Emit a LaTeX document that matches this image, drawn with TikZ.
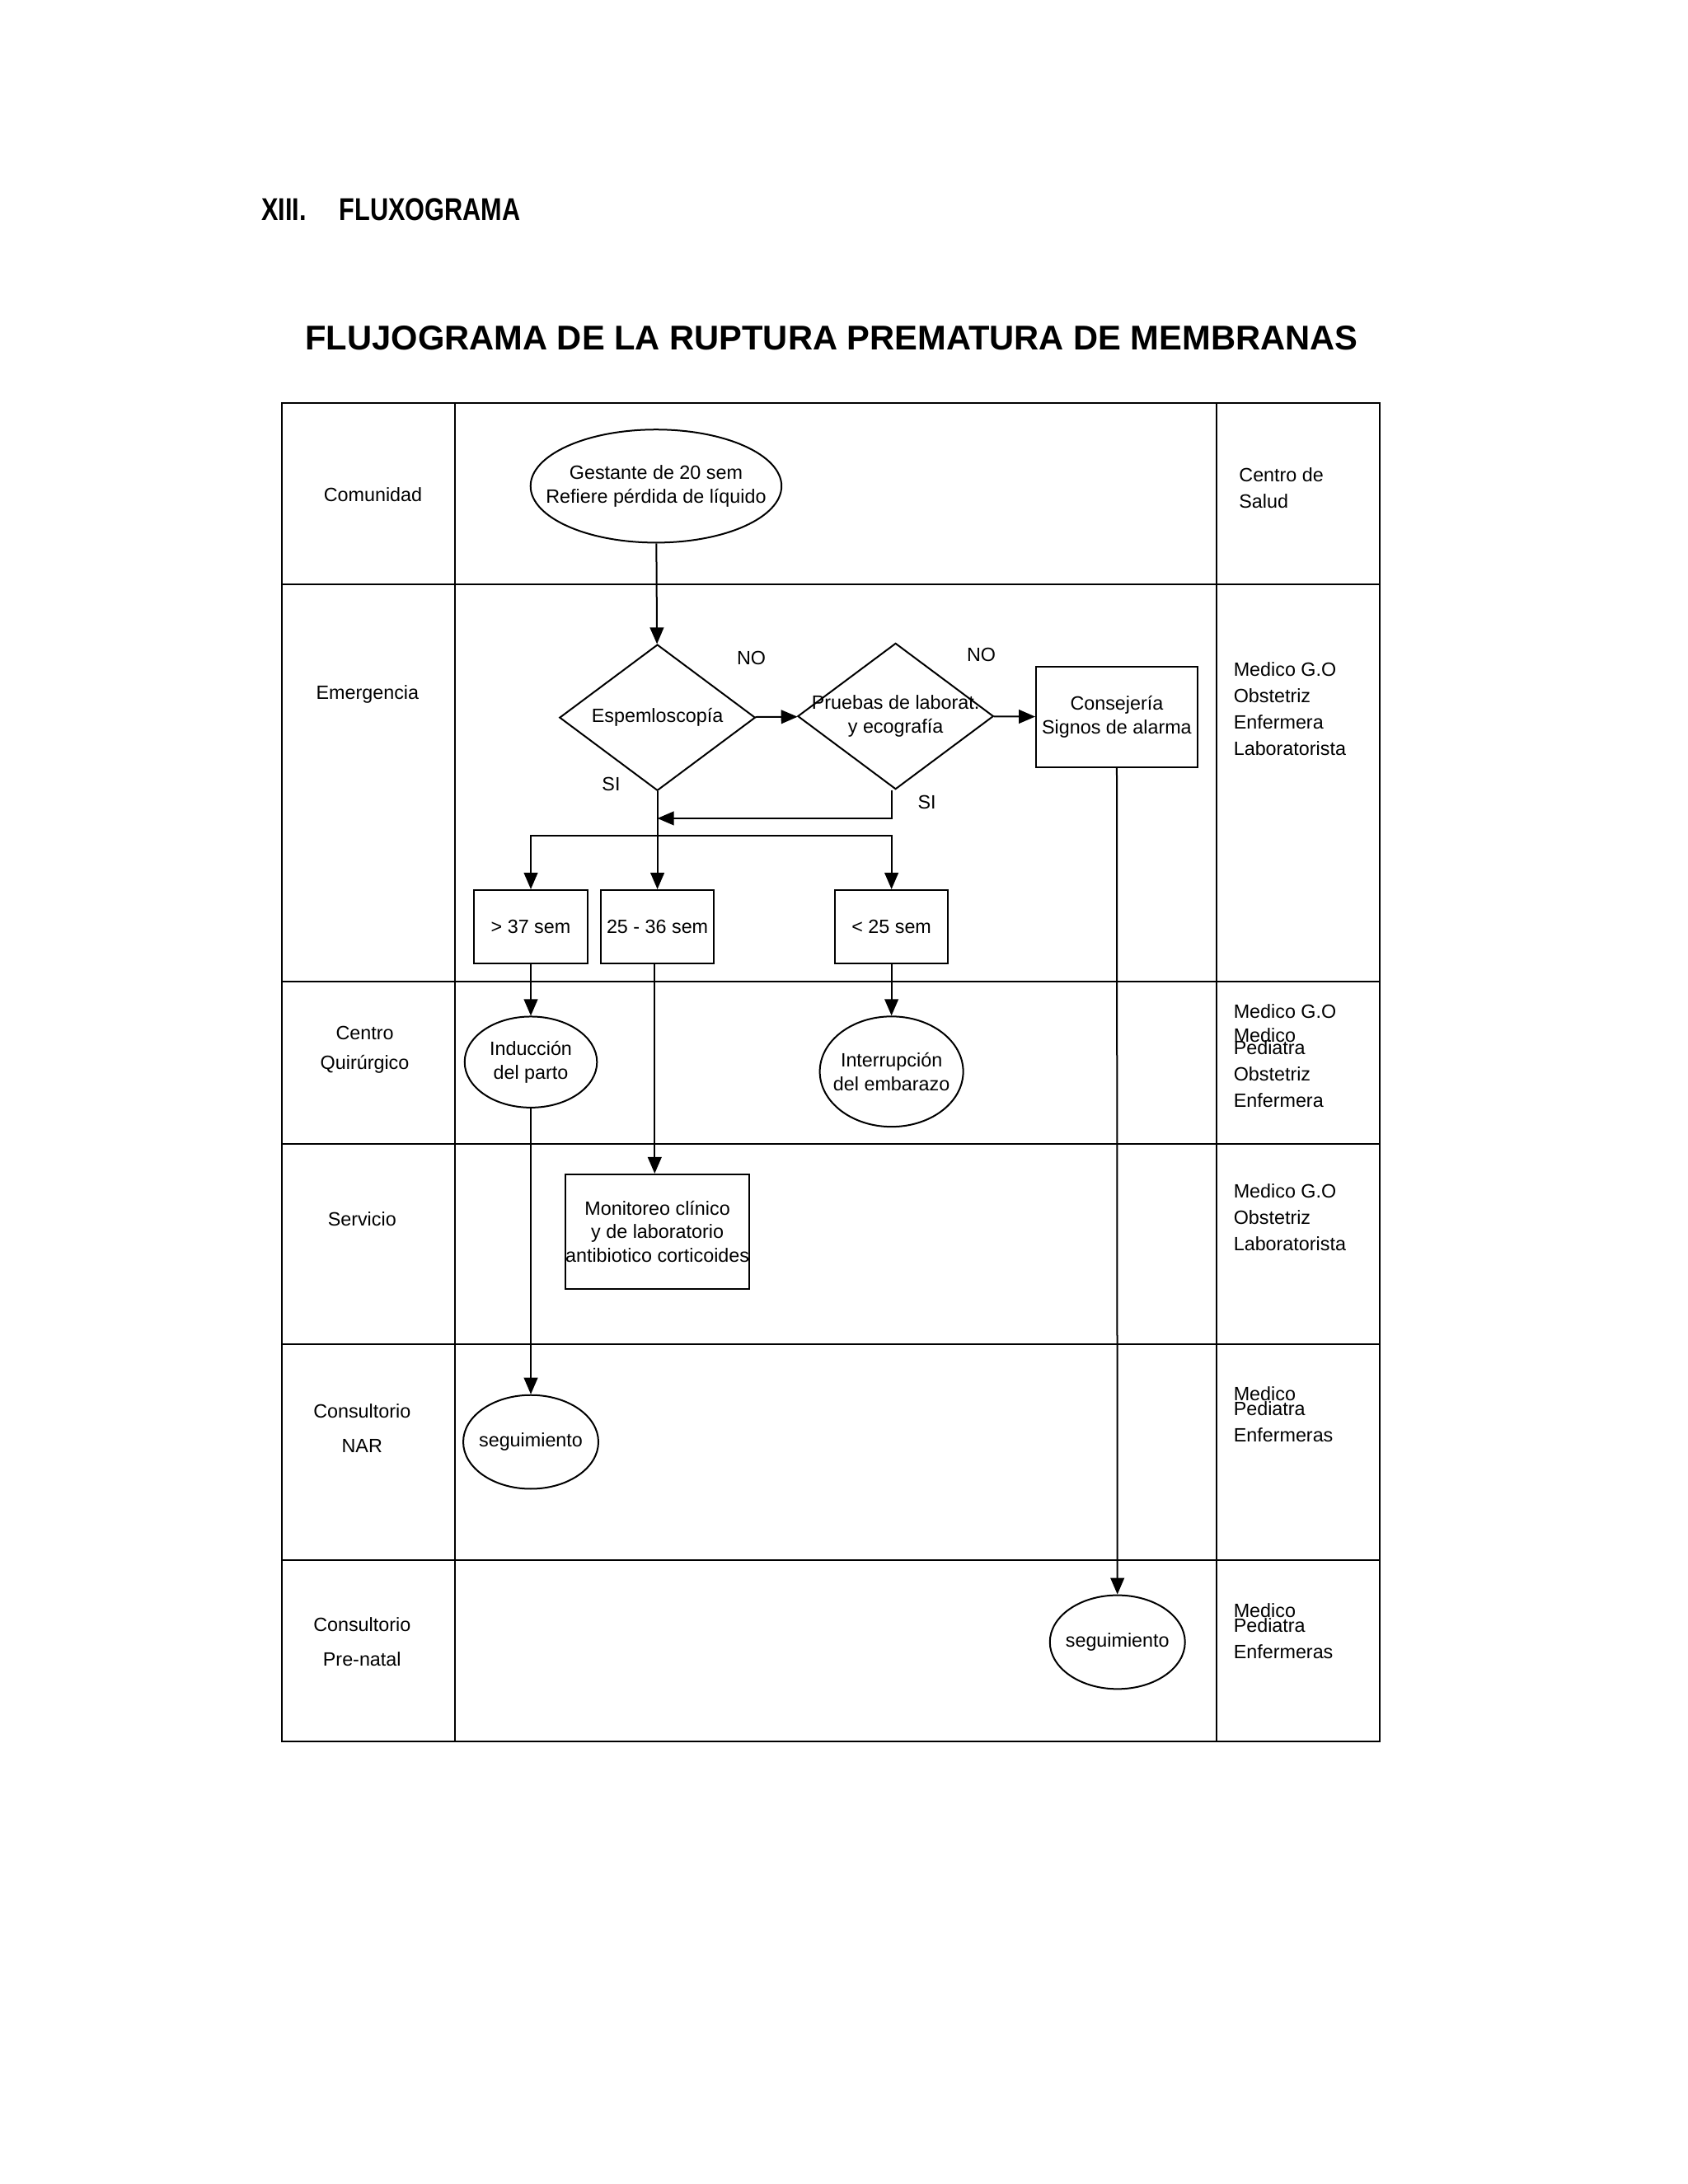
\documentclass[tikz,border=0pt]{standalone}
\usepackage{fontspec}
\setmainfont{Liberation Sans}
\usetikzlibrary{shapes.geometric,positioning,arrows.meta,calc}
\begin{document}
\begin{tikzpicture}[x=0.49355bp,y=-0.49377bp,>={Triangle[length=6pt,width=5pt]},
   txt/.style={font=\fontsize{7}{8.6}\selectfont,align=center,inner sep=0pt},
   lbl/.style={font=\fontsize{7}{9.6}\selectfont,align=left,anchor=north west,inner sep=0pt},
   caja/.style={draw,txt,line width=0.6pt},
   elip/.style={draw,ellipse,line width=0.6pt,inner sep=0pt,label={[txt]center:#1}},
   rombo/.style={draw,diamond,line width=0.6pt,inner sep=0pt,label={[txt]center:#1}}]
   \useasboundingbox (0,0) rectangle (1240,1604);
   \node[anchor=west,font=\bfseries\fontsize{11.5}{13}\selectfont] (sec) at (185,154) {\addfontfeature{FakeStretch=0.8}XIII.\hspace{12pt}FLUXOGRAMA};
   \node[font=\bfseries\fontsize{12.5}{15}\selectfont] (tit) at (611,248) {FLUJOGRAMA DE LA RUPTURA PREMATURA DE MEMBRANAS};
   % tabla
   \draw[line width=0.6pt] (207,296) rectangle (1014,1279);
   \foreach \x in {334,894} \draw[line width=0.6pt] (\x,296) -- (\x,1279);
   \foreach \y in {429,721,840,987,1146} \draw[line width=0.6pt] (207,\y) -- (1014,\y);
   % columna izquierda
   \node[txt] (com) at (274,363) {Comunidad};
   \node[txt] (eme) at (270,510) {Emergencia};
   \node[txt] (cq) at (268,771) {Centro\\[2pt]Quirúrgico};
   \node[txt] (ser) at (266,895) {Servicio};
   \node[txt] (nar) at (266,1049) {Consultorio\\[4pt]NAR};
   \node[txt] (pre) at (266,1206) {Consultorio\\[4pt]Pre-natal};
   % columna derecha
   \node[lbl] (r1) at (910,343) {Centro de\\Salud};
   \node[lbl] (r2) at (906,486) {Medico G.O\\Obstetriz\\Enfermera\\Laboratorista};
   \node[lbl] (r3) at (906,737) {Medico G.O};
   \node[lbl] (r3b) at (906,755) {Medico};
   \node[lbl] (r3c) at (906,764) {Pediatra\\Obstetriz\\Enfermera};
   \node[lbl] (r4) at (906,869) {Medico G.O\\Obstetriz\\Laboratorista};
   \node[lbl] (r5) at (906,1018) {Medico};
   \node[lbl] (r5b) at (906,1029) {Pediatra\\Enfermeras};
   \node[lbl] (r6) at (906,1177) {Medico};
   \node[lbl] (r6b) at (906,1188) {Pediatra\\Enfermeras};
   % flujo
   \node[elip={Gestante de 20 sem\\Refiere pérdida de líquido},minimum width=91bp,minimum height=41bp] (ges) at (482,357) {};
   \node[rombo={Espemloscopía},minimum width=71bp,minimum height=53bp] (esp) at (483,527) {};
   \node[rombo={Pruebas de laborat.\\y ecografía},minimum width=71bp,minimum height=53bp] (pru) at (658,526) {};
   \node[caja,minimum width=58.5bp,minimum height=36.5bp] (con) at (820.5,526.5) {Consejería\\Signos de alarma};
   \node[caja,minimum width=41bp,minimum height=26.5bp] (s37) at (390,680.5) {> 37 sem};
   \node[caja,minimum width=41bp,minimum height=26.5bp] (s25) at (483,680.5) {25 - 36 sem};
   \node[caja,minimum width=41bp,minimum height=26.5bp] (s24) at (655,680.5) {< 25 sem};
   \node[elip={Inducción\\del parto},minimum width=48bp,minimum height=33bp] (ind) at (390,780) {};
   \node[elip={Interrupción\\del embarazo},minimum width=52bp,minimum height=40bp] (int) at (655,787) {};
   \node[caja,minimum width=60bp,minimum height=41.5bp] (mon) at (483,904.5) {Monitoreo clínico\\y de laboratorio\\antibiotico corticoides};
   \node[elip={seguimiento},minimum width=49bp,minimum height=34bp] (seg1) at (390,1059) {};
   \node[elip={seguimiento},minimum width=49bp,minimum height=34bp] (seg2) at (821,1206) {};
   \node[txt] (no1) at (552,483) {NO};
   \node[txt] (no2) at (721,481) {NO};
   \node[txt] (si1) at (449,576) {SI};
   \node[txt] (si2) at (681,589) {SI};
   \coordinate (m1) at (483,601);
   \coordinate (bar) at (483,614);
   \begin{scope}[line width=0.6pt]
   \draw[->] (ges) -- (esp);
   \draw[->] (esp) -- (pru);
   \draw[->] (pru) -- (con);
   \draw[->] (pru.south) ++(-3,0) |- (m1);
   \draw[->] (esp.south) -- (s25);
   \draw[->] (bar) -| (s37);
   \draw[->] (bar) -| (s24);
   \draw[->] (s37) -- (ind);
   \draw[->] (s24) -- (int);
   \draw[->] (s25.south) ++(-2,0) -- ($(mon.north)+(-2,0)$);
   \draw[->] (ind) -- (seg1);
   \draw[->] (con) -- (seg2);
   \end{scope}
\end{tikzpicture}
\end{document}
